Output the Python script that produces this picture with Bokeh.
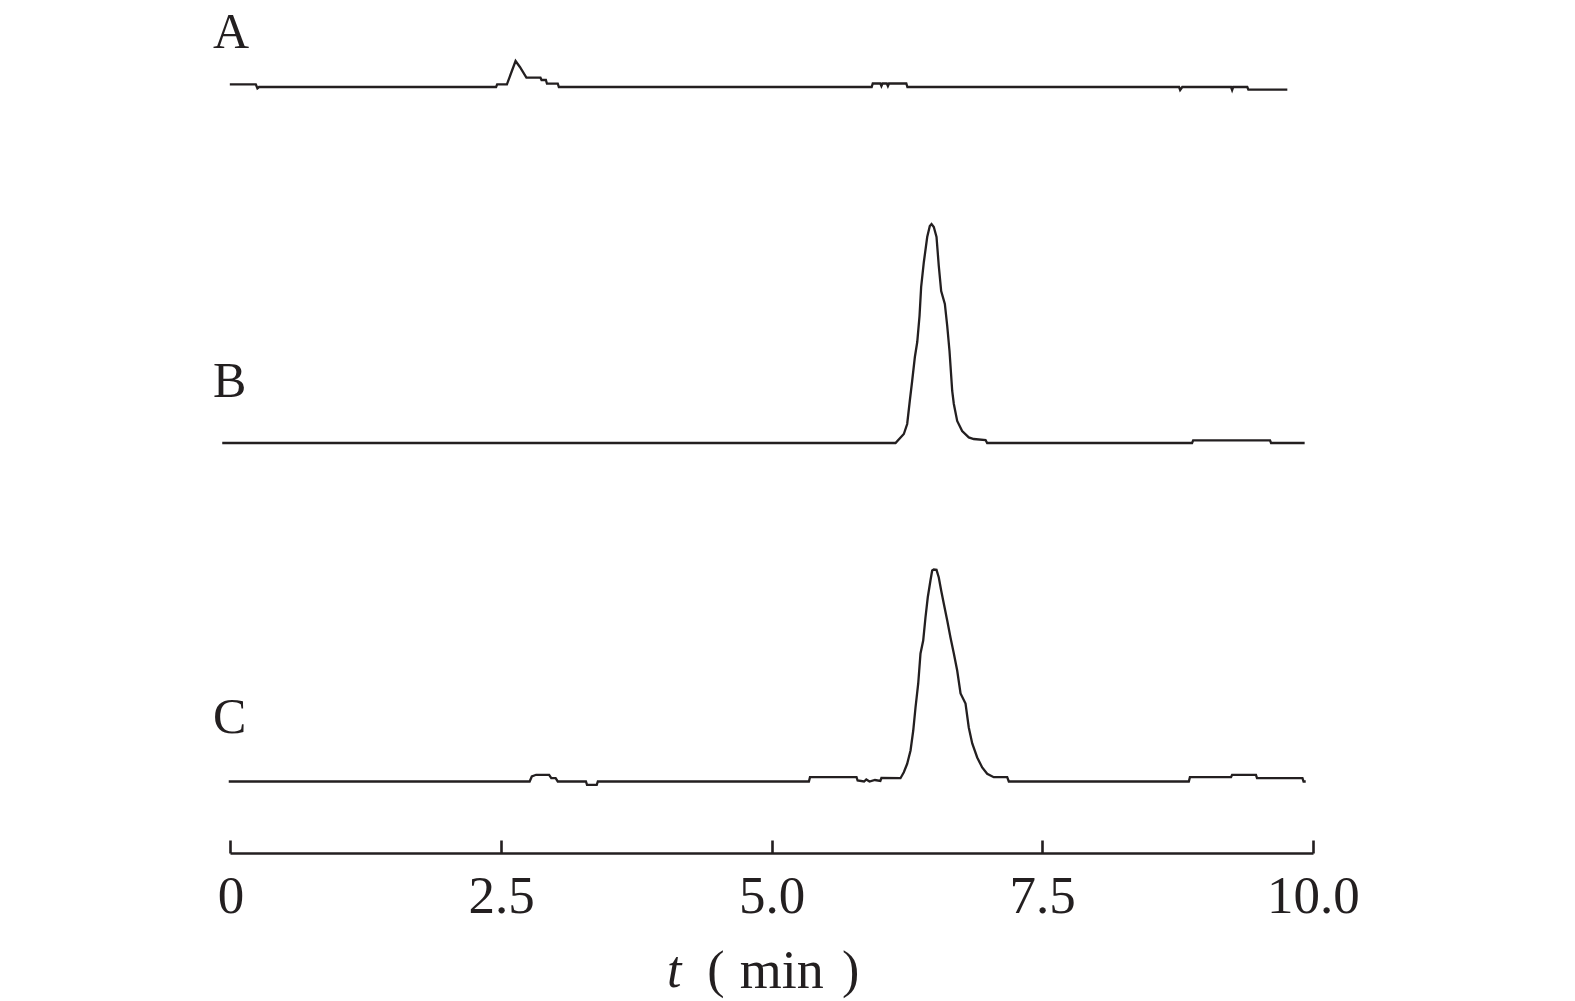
from bokeh.plotting import figure
from bokeh.models import Range1d, Label, FixedTicker
from bokeh.embed import file_html
from bokeh.resources import INLINE

# ---------------- data (time in min, detector signal in arbitrary units) ----------------
time_A = [-0.01, 0.23, 0.245, 0.26, 2.45, 2.46, 2.55, 2.63, 2.67, 2.73, 2.86, 2.87, 2.91, 2.92,
          3.02, 3.03, 5.92, 5.93, 6.00, 6.01, 6.02, 6.06, 6.07, 6.08, 6.24, 6.25, 8.76, 8.77,
          8.79, 9.24, 9.25, 9.26, 9.39, 9.40, 9.76]
signal_A = [2.7, 2.7, -1.3, 0, 0, 2.7, 2.7, 26, 20, 9.3, 9.3, 7, 7, 3.3,
            3.3, 0, 0, 3.5, 3.5, 1, 3.5, 3.5, 1, 3.5, 3.5, 0, 0, -3,
            0, 0, -3, 0, 0, -2.7, -2.7]

time_B = [-0.08, 6.140, 6.217, 6.248, 6.272, 6.294, 6.319, 6.341, 6.362, 6.377, 6.402, 6.433,
          6.457, 6.473, 6.494, 6.519, 6.540, 6.562, 6.596, 6.618, 6.639, 6.664, 6.679, 6.710,
          6.756, 6.817, 6.863, 6.972, 6.987, 8.88, 8.89, 9.60, 9.61, 9.92]
signal_B = [0, 0, 9, 19, 42, 62, 86, 101, 127, 156, 181, 206,
            217, 219, 216, 206, 177, 152, 139, 117, 92, 52, 39, 22,
            12, 5.6, 4, 3, 0, 0, 2.7, 2.7, 0, 0]

time_C = [-0.02, 2.76, 2.78, 2.82, 2.94, 2.96, 3.00, 3.02, 3.28, 3.29, 3.38, 3.39, 5.34, 5.35,
          5.78, 5.79, 5.85, 5.87, 5.90, 5.95, 6.00, 6.01, 6.186, 6.217, 6.248, 6.279, 6.304,
          6.325, 6.350, 6.371, 6.396, 6.417, 6.438, 6.463, 6.479, 6.494, 6.519, 6.540, 6.562,
          6.586, 6.618, 6.648, 6.679, 6.710, 6.741, 6.787, 6.817, 6.849, 6.895, 6.941, 6.987,
          7.048, 7.172, 7.187, 8.85, 8.86, 9.24, 9.25, 9.47, 9.48, 9.90, 9.91, 9.93]
signal_C = [0, 0, 5, 6.7, 6.7, 3.3, 3.3, 0, 0, -3.3, -3.3, 0, 0, 4.3,
            4.3, 1, 0, 2, 0, 1.5, 0.5, 3.5, 3.3, 9.3, 17.7, 31, 51,
            74, 98, 128, 141, 164, 184, 201, 211, 212, 211.7, 204, 191,
            178, 161, 144, 128, 111, 88, 78, 54, 38, 24, 14, 7.7,
            4.3, 4.3, 0, 0, 4.3, 4.3, 6.7, 6.7, 3.3, 3.3, 0, 0]

trace_names = ["A", "B", "C"]
tick_values = [0, 2.5, 5.0, 7.5, 10.0]
tick_labels = ["0", "2.5", "5.0", "7.5", "10.0"]

# ---------------- layout / style ----------------
INK = "#231f20"
FONT = "Liberation Serif"
W, H = 1572, 1000
AXIS_Y = 853                      # screen row of the time axis
offsets = {"A": 766.5, "B": 410.5, "C": 72.0}      # vertical stacking of the traces
label_pos = {"A": (-0.165, 823), "B": (-0.165, 474), "C": (-0.165, 138)}

p = figure(width=W, height=H, output_backend="svg", toolbar_location=None,
           x_range=Range1d(-230.4 / 108.24, (W - 230.4) / 108.24),
           y_range=Range1d(AXIS_Y - H, AXIS_Y),
           min_border_left=0, min_border_right=0, min_border_top=0, min_border_bottom=0)
p.outline_line_color = None
p.background_fill_color = "white"
p.border_fill_color = "white"
p.xgrid.visible = False
p.ygrid.visible = False
p.yaxis.visible = False

series = {"A": (time_A, signal_A), "B": (time_B, signal_B), "C": (time_C, signal_C)}
for name in trace_names:
    t, s = series[name]
    ys = [v + offsets[name] for v in s]
    p.line(t, ys, line_color=INK, line_width=2.3, line_join="miter")
    lx, ly = label_pos[name]
    p.add_layout(Label(x=lx, y=ly, text=name, text_font=FONT, text_font_size="50px",
                       text_color=INK, text_align="left", text_baseline="alphabetic"))

ax = p.xaxis[0]
ax.fixed_location = 0
ax.bounds = (0, 10)
ax.ticker = FixedTicker(ticks=tick_values, minor_ticks=[])
ax.major_label_overrides = {v: lab for v, lab in zip(tick_values, tick_labels)}
ax.major_tick_in = 13
ax.major_tick_out = 0
ax.minor_tick_in = 0
ax.minor_tick_out = 0
ax.axis_line_color = INK
ax.axis_line_width = 2.6
ax.major_tick_line_color = INK
ax.major_tick_line_width = 2.6
ax.major_label_text_font = FONT
ax.major_label_text_font_size = "53px"
ax.major_label_text_color = INK
ax.major_label_standoff = 24
ax.axis_label = None

# axis title "t ( min )" with italic t
for txt, x, style, size in [("t", 4.03, "italic", "52px"), ("(", 4.40, "normal", "52px"),
                            ("min", 4.70, "normal", "54px"), (")", 5.645, "normal", "52px")]:
    p.add_layout(Label(x=x, y=-116, text=txt, text_font=FONT, text_font_size=size,
                       text_font_style=style, text_color=INK, text_align="left",
                       text_baseline="alphabetic"))

open("out.html", "w").write(file_html(p, INLINE))
